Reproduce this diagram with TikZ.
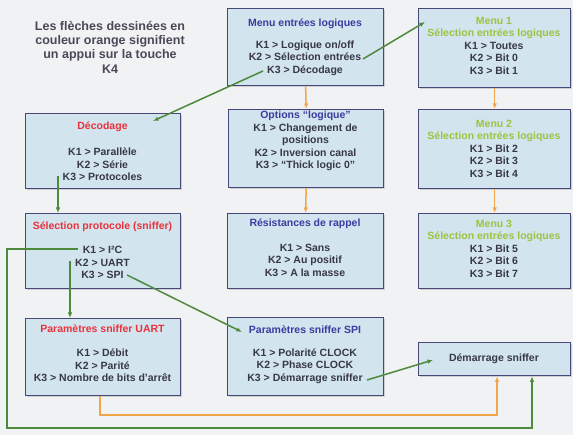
\documentclass[tikz,border=0pt]{standalone}
\usepackage{fontspec}
\setmainfont{Liberation Sans}
\usetikzlibrary{arrows.meta,shadows}
\definecolor{bg}{HTML}{F1F2F3}
\definecolor{boxfill}{HTML}{D2E4EE}
\definecolor{boxline}{HTML}{47477A}
\definecolor{bodyc}{HTML}{383848}
\definecolor{bluec}{HTML}{3C3CA0}
\definecolor{redc}{HTML}{E8323C}
\definecolor{menuc}{HTML}{9CC43E}
\definecolor{notec}{HTML}{4B4858}
\definecolor{greenc}{HTML}{4E8A3E}
\definecolor{orangec}{HTML}{F2A64A}
\begin{document}
\begin{tikzpicture}[x=1pt,y=-1pt,
 box/.style={draw=boxline, line width=1.3pt, fill=boxfill, inner sep=0pt, anchor=north west,
   drop shadow={shadow xshift=1.2pt,shadow yshift=-1.2pt,opacity=0.3}},
 txt/.style={font=\fontsize{10.5}{12.5}\selectfont\bfseries, text=bodyc, align=center, inner sep=0pt},
 garrow/.style={draw=greenc, line width=1.5pt, -{Latex[length=5.5pt,width=4.5pt]}},
 oarrow/.style={draw=orangec, line width=1.5pt, -{Latex[length=5.5pt,width=4.5pt]}}]
\fill[bg] (0,0) rectangle (573,435);
\useasboundingbox (0,0) rectangle (573,435);

% note
\node[font=\fontsize{12.5}{14.3}\selectfont\bfseries, text=notec, align=center, inner sep=0pt] (note) at (110,47)
 {Les flèches dessinées en\\couleur orange signifient\\un appui sur la touche\\K4};

% boxes
\node[box, minimum width=156pt, minimum height=77pt] (me) at (227,8) {};
\node[box, minimum width=152pt, minimum height=79pt] (m1) at (418,8) {};
\node[box, minimum width=155pt, minimum height=75pt] (dec) at (25,113) {};
\node[box, minimum width=155pt, minimum height=78pt] (opt) at (228,109) {};
\node[box, minimum width=152pt, minimum height=79pt] (m2) at (418,109) {};
\node[box, minimum width=155pt, minimum height=75pt] (sel) at (25,213) {};
\node[box, minimum width=156pt, minimum height=75pt] (res) at (227,213) {};
\node[box, minimum width=152pt, minimum height=75pt] (m3) at (418,213) {};
\node[box, minimum width=155pt, minimum height=77pt] (uart) at (25,318) {};
\node[box, minimum width=156pt, minimum height=78pt] (spi) at (227,317) {};
\node[box, minimum width=152pt, minimum height=33pt] (dem) at (418,342) {};

% texts
\node[txt] (met) at (305,47) {\textcolor{bluec}{Menu entrées logiques}\\[9.5pt]
 K1 > Logique on/off\\ K2 > Sélection entrées\\ K3 > Décodage};
\node[txt] (m1t) at (494,45.5) {\textcolor{menuc}{Menu 1}\\ \textcolor{menuc}{Sélection entrées logiques}\\
 K1 > Toutes\\ K2 > Bit 0\\ K3 > Bit 1};
\node[txt] (dect) at (102.5,151) {\textcolor{redc}{Décodage}\\[14pt]
 K1 > Parallèle\\ K2 > Série\\ K3 > Protocoles};
\node[txt] (optt) at (305.5,141) {\textcolor{bluec}{Options “logique”}\\
 K1 > Changement de\\ positions\\ K2 > Inversion canal\\ K3 > “Thick logic 0”};
\node[txt] (m2t) at (494,148.5) {\textcolor{menuc}{Menu 2}\\ \textcolor{menuc}{Sélection entrées logiques}\\
 K1 > Bit 2\\ K2 > Bit 3\\ K3 > Bit 4};
\node[txt] (selt) at (102.5,250) {\textcolor{redc}{Sélection protocole (sniffer)}\\[12pt]
 K1 > I²C\\ K2 > UART\\ K3 > SPI};
\node[txt] (rest) at (305,247.5) {\textcolor{bluec}{Résistances de rappel}\\[12pt]
 K1 > Sans\\ K2 > Au positif\\ K3 > A la masse};
\node[txt] (m3t) at (494,248.5) {\textcolor{menuc}{Menu 3}\\ \textcolor{menuc}{Sélection entrées logiques}\\
 K1 > Bit 5\\ K2 > Bit 6\\ K3 > Bit 7};
\node[txt] (uartt) at (102.5,353.5) {\textcolor{redc}{Paramètres sniffer UART}\\[11.5pt]
 K1 > Débit\\ K2 > Parité\\ K3 > Nombre de bits d'arrêt};
\node[txt] (spit) at (305,354.5) {\textcolor{bluec}{Paramètres sniffer SPI}\\[10.5pt]
 K1 > Polarité CLOCK\\ K2 > Phase CLOCK\\ K3 > Démarrage sniffer};
\node[txt] (demt) at (494,359) {Démarrage sniffer};

% connector end points
\coordinate (mek2) at ([shift={(136,51)}]me.north west);
\coordinate (mek3) at ([shift={(36,63)}]me.north west);
\coordinate (m1tip) at ([shift={(7,14)}]m1.north west);
\coordinate (dectip) at ([shift={(128,8)}]dec.north west);
\coordinate (deck3) at ([shift={(33,63)}]dec.north west);
\coordinate (seltop) at ([shift={(33,0)}]sel.north west);
\coordinate (selk1) at ([shift={(53,36)}]sel.north west);
\coordinate (selk2) at ([shift={(45,48)}]sel.north west);
\coordinate (selk3) at ([shift={(102,62)}]sel.north west);
\coordinate (uarttop) at ([shift={(45,0)}]uart.north west);
\coordinate (uartb) at ([shift={(75,0)}]uart.south west);
\coordinate (spitip) at ([shift={(15,15)}]spi.north west);
\coordinate (spik3) at ([shift={(140,63)}]spi.north west);
\coordinate (demtip) at ([shift={(15,18)}]dem.north west);
\coordinate (demo) at ([shift={(79,0)}]dem.south west);
\coordinate (demg) at ([shift={(114,0)}]dem.south west);
\coordinate (gcorner) at (7,428);
\coordinate (ocorner) at (100,415);

% connectors
\draw[oarrow] (me.south) -- (opt.north);
\draw[oarrow] (opt.south) -- (res.north);
\draw[oarrow] (m1.south) -- (m2.north);
\draw[oarrow] (m2.south) -- (m3.north);
\draw[oarrow] (uartb) -- (ocorner) -| (demo);
\draw[garrow] (mek2) -- (m1tip);
\draw[garrow] (mek3) -- (dectip);
\draw[garrow] (deck3) -- (seltop);
\draw[garrow] (selk1) -| (gcorner) -| (demg);
\draw[garrow] (selk2) -- (uarttop);
\draw[garrow] (selk3) -- (spitip);
\draw[garrow] (spik3) -- (demtip);
\end{tikzpicture}
\end{document}
